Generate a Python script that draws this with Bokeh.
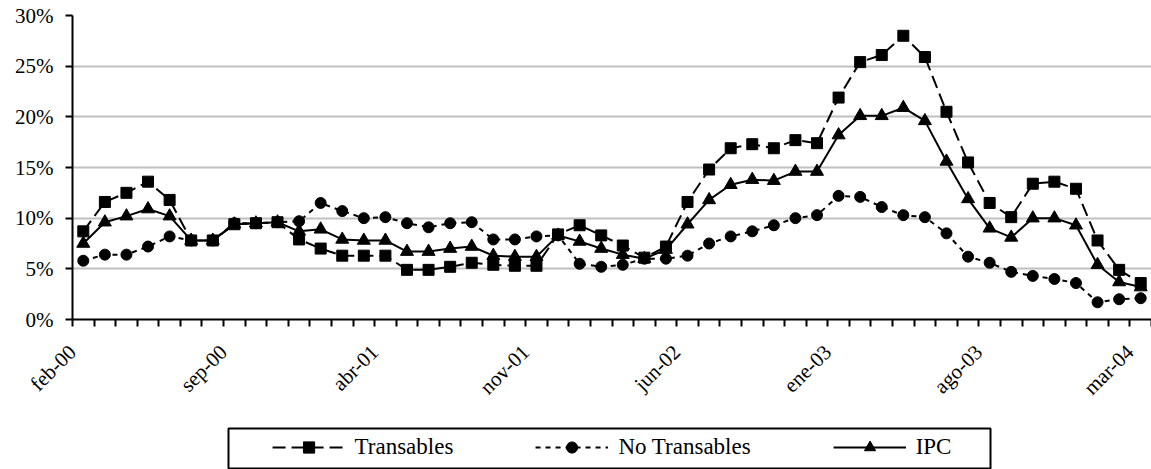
import math
from bokeh.plotting import figure
from bokeh.layouts import column
from bokeh.models import (Range1d, FixedTicker, CustomJSTickFormatter, PrintfTickFormatter,
                          Legend, LegendItem, ColumnDataSource)
from bokeh.embed import file_html
from bokeh.resources import INLINE

# ---------------- data ----------------
months = [
    "feb-00", "mar-00", "abr-00", "may-00", "jun-00", "jul-00", "ago-00", "sep-00", "oct-00", "nov-00", "dic-00",
    "ene-01", "feb-01", "mar-01", "abr-01", "may-01", "jun-01", "jul-01", "ago-01", "sep-01", "oct-01", "nov-01", "dic-01",
    "ene-02", "feb-02", "mar-02", "abr-02", "may-02", "jun-02", "jul-02", "ago-02", "sep-02", "oct-02", "nov-02", "dic-02",
    "ene-03", "feb-03", "mar-03", "abr-03", "may-03", "jun-03", "jul-03", "ago-03", "sep-03", "oct-03", "nov-03", "dic-03",
    "ene-04", "feb-04", "mar-04",
]
transables = [8.7, 11.6, 12.5, 13.6, 11.8, 7.8, 7.8, 9.4, 9.5, 9.6, 7.9, 7.0, 6.3, 6.3, 6.3,
              4.9, 4.9, 5.2, 5.6, 5.4, 5.3, 5.3, 8.4, 9.3, 8.3, 7.3, 6.1, 7.2, 11.6, 14.8,
              16.9, 17.3, 16.9, 17.7, 17.4, 21.9, 25.4, 26.1, 28.0, 25.9, 20.5, 15.5, 11.5, 10.1,
              13.4, 13.6, 12.9, 7.8, 4.9, 3.6]
no_transables = [5.8, 6.4, 6.4, 7.2, 8.2, 7.8, 7.8, 9.5, 9.5, 9.6, 9.7, 11.5, 10.7, 10.0, 10.1,
                 9.5, 9.1, 9.5, 9.6, 7.9, 7.9, 8.2, 8.3, 5.5, 5.2, 5.4, 6.0, 6.0, 6.3, 7.5,
                 8.2, 8.7, 9.3, 10.0, 10.3, 12.2, 12.1, 11.1, 10.3, 10.1, 8.5, 6.2, 5.6, 4.7,
                 4.3, 4.0, 3.6, 1.7, 2.0, 2.1]
ipc = [7.5, 9.6, 10.2, 10.9, 10.2, 7.8, 7.8, 9.4, 9.5, 9.6, 8.7, 8.9, 7.9, 7.8, 7.8,
       6.7, 6.7, 7.0, 7.2, 6.3, 6.2, 6.2, 8.3, 7.7, 7.0, 6.4, 6.0, 6.9, 9.4, 11.8,
       13.3, 13.8, 13.7, 14.6, 14.6, 18.2, 20.1, 20.1, 20.9, 19.6, 15.6, 11.9, 9.0, 8.1,
       10.0, 10.0, 9.3, 5.4, 3.7, 3.2]
series_names = ["Transables", "No Transables", "IPC"]
y_ticks = [0, 5, 10, 15, 20, 25, 30]
label_step = 7

FONT = "Liberation Serif"
n = len(months)
xs = [i + 0.5 for i in range(n)]
src = ColumnDataSource(dict(x=xs, t=transables, nt=no_transables, ipc=ipc))

STYLES = {
    "t": dict(line_dash="13 6", marker="square", size=11),
    "nt": dict(line_dash="5 5", marker="circle", size=11),
    "ipc": dict(line_dash="solid", marker="triangle", size=13),
}

W = 1151
LEFT = 72
p = figure(width=W, height=424, output_backend="svg", toolbar_location=None,
           x_range=Range1d(0, n), y_range=Range1d(0, 30),
           min_border_left=LEFT, min_border_right=0, min_border_top=15, min_border_bottom=105)
p.outline_line_color = None
p.background_fill_color = "white"
p.border_fill_color = "white"

# grid
p.xgrid.visible = False
p.ygrid.ticker = FixedTicker(ticks=y_ticks)
p.ygrid.grid_line_color = "#c0c0c0"
p.ygrid.grid_line_width = 2

# y axis
ya = p.yaxis[0]
ya.ticker = FixedTicker(ticks=y_ticks)
ya.formatter = PrintfTickFormatter(format="%d%%")
ya.axis_line_width = 2
ya.axis_line_color = "black"
ya.major_tick_in = 0
ya.major_tick_out = 7
ya.major_tick_line_width = 2
ya.minor_tick_line_color = None
ya.major_label_text_font = FONT
ya.major_label_text_font_size = "21px"
ya.major_label_text_color = "black"
ya.major_label_standoff = 12

# x axis: ticks at month boundaries, labels every 7 months
xa = p.xaxis[0]
xa.ticker = FixedTicker(ticks=[float(i) for i in range(0, n, label_step)],
                        minor_ticks=list(range(0, n + 1)))
xa.formatter = CustomJSTickFormatter(args=dict(labels=months),
                                     code="return labels[Math.round(tick)] || '';")
xa.axis_line_width = 2
xa.axis_line_color = "black"
xa.major_tick_in = 0
xa.major_tick_out = 0
xa.minor_tick_in = 0
xa.minor_tick_out = 7
xa.minor_tick_line_width = 2
xa.minor_tick_line_color = "black"
xa.major_label_orientation = math.pi / 4
xa.major_label_text_font = FONT
xa.major_label_text_font_size = "21px"
xa.major_label_text_color = "black"
xa.major_label_standoff = 22

# series (IPC first, Transables on top)
for key in ["ipc", "nt", "t"]:
    st = STYLES[key]
    p.line("x", key, source=src, line_color="black", line_width=2, line_dash=st["line_dash"])
for key in ["ipc", "nt", "t"]:
    st = STYLES[key]
    p.scatter("x", key, source=src, marker=st["marker"], size=st["size"],
              fill_color="black", line_color="black")

# legend strip: pixel-unit ranges for the frame box, hidden range for legend renderers
LH = 45
lf = figure(width=W, height=LH, output_backend="svg", toolbar_location=None,
            x_range=Range1d(0, W - LEFT), y_range=Range1d(0, LH),
            min_border_left=LEFT, min_border_right=0, min_border_top=0, min_border_bottom=0)
lf.extra_x_ranges = {"hidden": Range1d(-200, -199)}
lf.axis.visible = False
lf.grid.visible = False
lf.outline_line_color = None
# legend box outline
lf.quad(left=[228 - LEFT], right=[990 - LEFT], bottom=[1], top=[41],
        fill_color=None, line_color="black", line_width=2)
items = []
for key, name in zip(["t", "nt", "ipc"], series_names):
    st = STYLES[key]
    r1 = lf.line("x", key, source=src, x_range_name="hidden", line_color="black",
                 line_width=2, line_dash=st["line_dash"])
    r2 = lf.scatter("x", key, source=src, x_range_name="hidden", marker=st["marker"],
                    size=st["size"], fill_color="black", line_color="black")
    items.append(LegendItem(label=name, renderers=[r1, r2]))

legend = Legend(items=items, orientation="horizontal", location="center",
                border_line_color=None, background_fill_alpha=0,
                label_text_font=FONT, label_text_font_size="23px", label_text_color="black",
                glyph_width=73, glyph_height=28, label_standoff=10, spacing=82,
                padding=6, margin=0)
lf.add_layout(legend, "center")

layout = column(p, lf, spacing=0)
open("out.html", "w").write(file_html(layout, INLINE))
